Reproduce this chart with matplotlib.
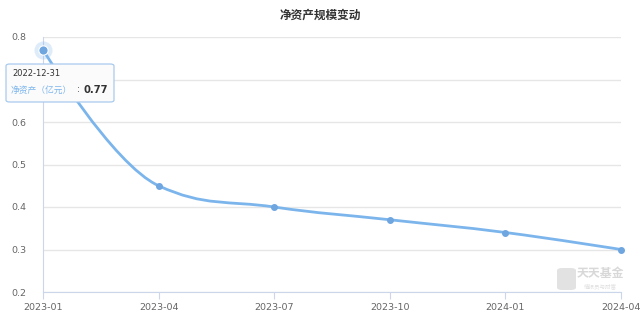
import numpy as np
import matplotlib
matplotlib.use('Agg')
from matplotlib import pyplot as plt
from matplotlib.path import Path
from matplotlib.patches import PathPatch, FancyBboxPatch

plt.rcParams['font.family'] = ['DejaVu Sans', 'Noto Sans CJK SC']

# datos del grafico
fechas = ['2022-12-31', '2023-03-31', '2023-06-30', '2023-09-30', '2023-12-31', '2024-03-31']
etiquetas = ['2023-01', '2023-04', '2023-07', '2023-10', '2024-01', '2024-04']
valores = [0.77, 0.45, 0.40, 0.37, 0.34, 0.30]
yticks = [0.2, 0.3, 0.4, 0.5, 0.6, 0.7, 0.8]

titulo = '净资产规模变动'
serie = '净资产（亿元）'
color_linea = '#7cb5ec'
color_marca = '#6fa6e0'


def spline_highcharts(xs, ys, smoothing=1.5):
    # puntos de control al estilo highcharts (spline)
    n = len(xs)
    denom = smoothing + 1
    left = [(xs[i], ys[i]) for i in range(n)]
    right = [(xs[i], ys[i]) for i in range(n)]
    for i in range(1, n - 1):
        x, y = xs[i], ys[i]
        lx, ly = xs[i - 1], ys[i - 1]
        nx, ny = xs[i + 1], ys[i + 1]
        lcx = (smoothing * x + lx) / denom
        lcy = (smoothing * y + ly) / denom
        rcx = (smoothing * x + nx) / denom
        rcy = (smoothing * y + ny) / denom
        corr = 0
        if rcx != lcx:
            corr = (rcy - lcy) * (rcx - x) / (rcx - lcx) + y - rcy
        lcy += corr
        rcy += corr
        if lcy > ly and lcy > y:
            lcy = max(ly, y); rcy = 2 * y - lcy
        elif lcy < ly and lcy < y:
            lcy = min(ly, y); rcy = 2 * y - lcy
        if rcy > ny and rcy > y:
            rcy = max(ny, y); lcy = 2 * y - rcy
        elif rcy < ny and rcy < y:
            rcy = min(ny, y); lcy = 2 * y - rcy
        left[i] = (lcx, lcy)
        right[i] = (rcx, rcy)
    verts = [(xs[0], ys[0])]
    codes = [Path.MOVETO]
    for i in range(1, n):
        verts += [right[i - 1], left[i], (xs[i], ys[i])]
        codes += [Path.CURVE4] * 3
    return Path(verts, codes)


fig = plt.figure(figsize=(6.4, 3.21), dpi=100)
ax = fig.add_axes([43 / 640, 1 - 292 / 321, 578 / 640, 255 / 321])

xs = np.arange(len(valores))
ax.set_xlim(xs[0], xs[-1])
ax.set_ylim(yticks[0], yticks[-1])
ax.set_yticks(yticks)
ax.set_xticks(xs)
ax.set_xticklabels(etiquetas)
ax.grid(axis='y', color='#e6e6e6', linewidth=1)
ax.set_axisbelow(True)

for lado in ['top', 'right']:
    ax.spines[lado].set_visible(False)
ax.spines['left'].set_color('#ccd6eb')
ax.spines['bottom'].set_color('#ccd6eb')
ax.tick_params(axis='x', colors='#ccd6eb', labelcolor='#666666', labelsize=6.8, length=5, pad=3)
ax.tick_params(axis='y', length=0, labelcolor='#666666', labelsize=6.8, pad=12)
# la etiqueta 0.7 queda tapada por el tooltip
ax.get_yticklabels()[yticks.index(0.7)].set_visible(False)

#======================== linea suavizada
camino = spline_highcharts(list(xs), valores)
ax.add_patch(PathPatch(camino, facecolor='none', edgecolor=color_linea, linewidth=2, clip_on=False))
ax.scatter(xs, valores, s=16, color=color_marca, zorder=3, clip_on=False)

# punto resaltado
ax.scatter([xs[0]], [valores[0]], s=170, color=color_linea, alpha=0.25, zorder=3, clip_on=False, linewidths=0)
ax.scatter([xs[0]], [valores[0]], s=45, color=color_marca, zorder=4, clip_on=False, edgecolors='white', linewidths=0.8)

#======================== titulo
fig.text(0.5, 1 - 15 / 321, titulo, ha='center', va='center', fontsize=8.4,
         fontweight='bold', color='#333333', family=['Noto Sans CJK SC', 'DejaVu Sans'])

#======================== tooltip
caja = FancyBboxPatch((6 / 640, 1 - 102 / 321), 108 / 640, 38 / 321,
                      boxstyle='round,pad=0,rounding_size=0.006',
                      transform=fig.transFigure, facecolor='#fbfbfb', edgecolor='#a9cbee',
                      linewidth=0.9, zorder=10)
fig.patches.append(caja)
fig.text(12 / 640, 1 - 74 / 321, fechas[0], fontsize=6, color='#333333', va='center', zorder=11)
fig.text(11 / 640, 1 - 90 / 321, serie, fontsize=6.3, color=color_linea, va='center', zorder=11,
         family=['Noto Sans CJK SC', 'DejaVu Sans'])
fig.text(77 / 640, 1 - 90 / 321, ':', fontsize=6.5, color='#333333', va='center', zorder=11)
fig.text(84 / 640, 1 - 90 / 321, '%.2f' % valores[0], fontsize=7.2, color='#333333',
         fontweight='bold', va='center', zorder=11)

#======================== marca de agua
icono = FancyBboxPatch((557 / 640, 1 - 290 / 321), 19 / 640, 22 / 321,
                       boxstyle='round,pad=0,rounding_size=0.008',
                       transform=fig.transFigure, facecolor='#e2e2e2', edgecolor='none', zorder=1)
fig.patches.append(icono)
fig.text(600 / 640, 1 - 274 / 321, '天天基金', fontsize=8.6, color='#d8d8d8', ha='center', va='center',
         fontweight='bold', family=['Noto Sans CJK SC', 'DejaVu Sans'])
fig.text(600 / 640, 1 - 286 / 321, '情报员与财富', fontsize=4, color='#e0e0e0', ha='center', va='center',
         family=['Noto Sans CJK SC', 'DejaVu Sans'])

fig.savefig('out.png', dpi=100, facecolor='white')
